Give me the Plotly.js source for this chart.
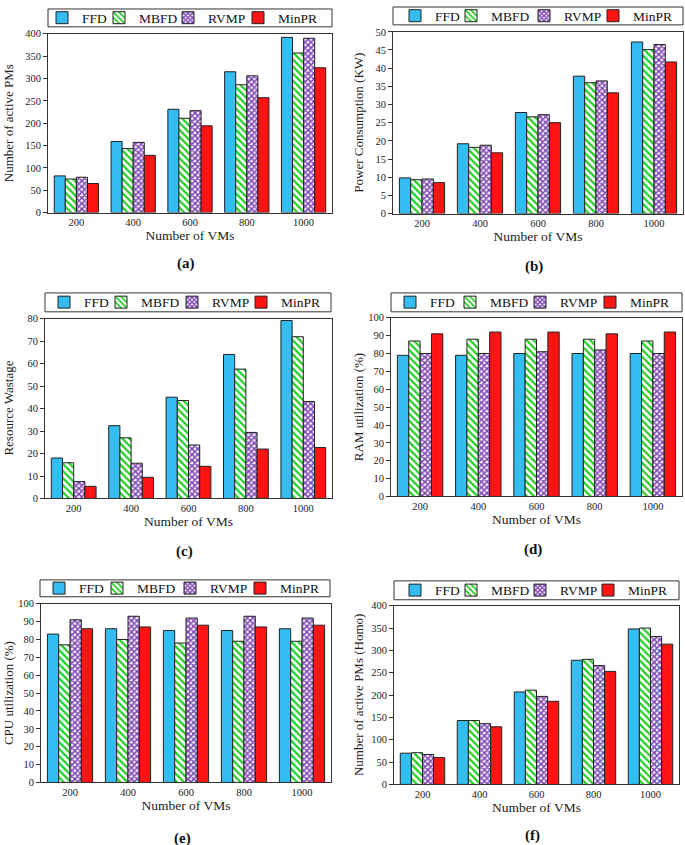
<!DOCTYPE html>
<html>
<head>
<meta charset="utf-8">
<script src="https://cdn.plot.ly/plotly-3.0.1.min.js"></script>
<style>html,body{margin:0;padding:0;background:#fff;}#chart{width:685px;height:845px;}</style>
</head>
<body>
<div id="chart"></div>
<script>
// ---------- DATA ----------
const vmCounts = ['200', '400', '600', '800', '1000'];
const algorithms = ['FFD', 'MBFD', 'RVMP', 'MinPR'];

// (a) Number of active PMs
const activePMs_FFD   = [82, 159, 231, 315, 392];
const activePMs_MBFD  = [75, 143, 211, 286, 357];
const activePMs_RVMP  = [79, 157, 228, 306, 390];
const activePMs_MinPR = [65, 128, 194, 257, 324];

// (b) Power consumption (KW)
const power_FFD   = [9.8, 19.2, 27.8, 37.8, 47.2];
const power_MBFD  = [9.3, 18.2, 26.6, 36.0, 45.1];
const power_RVMP  = [9.5, 18.8, 27.2, 36.5, 46.5];
const power_MinPR = [8.5, 16.7, 25.0, 33.2, 41.7];

// (c) Resource wastage
const waste_FFD   = [18.0, 32.4, 45.1, 64.1, 79.2];
const waste_MBFD  = [15.9, 27.0, 43.6, 57.6, 72.0];
const waste_RVMP  = [7.5, 15.7, 23.8, 29.4, 43.2];
const waste_MinPR = [5.4, 9.4, 14.3, 22.0, 22.7];

// (d) RAM utilization (%)
const ram_FFD   = [79, 79, 80, 80, 80];
const ram_MBFD  = [87, 88, 88, 88, 87];
const ram_RVMP  = [80, 80, 81, 82, 80];
const ram_MinPR = [91, 92, 92, 91, 92];

// (e) CPU utilization (%)
const cpu_FFD   = [83, 86, 85, 85, 86];
const cpu_MBFD  = [77, 80, 78, 79, 79];
const cpu_RVMP  = [91, 93, 92, 93, 92];
const cpu_MinPR = [86, 87, 88, 87, 88];

// (f) Number of active PMs (Homo)
const homo_FFD   = [70, 143, 207, 278, 348];
const homo_MBFD  = [71, 143, 211, 280, 350];
const homo_RVMP  = [67, 136, 197, 266, 331];
const homo_MinPR = [60, 129, 186, 253, 314];

const yTitles = ['Number of active PMs', 'Power Consumption (KW)', 'Resource Wastage',
                 'RAM utilization (%)', 'CPU utilization (%)', 'Number of active PMs (Homo)'];
const panelLabels = ['(a)', '(b)', '(c)', '(d)', '(e)', '(f)'];
const yMax = [400, 50, 80, 100, 100, 400];
const yStep = [50, 5, 10, 10, 10, 50];

const panelData = [
  [activePMs_FFD, activePMs_MBFD, activePMs_RVMP, activePMs_MinPR],
  [power_FFD, power_MBFD, power_RVMP, power_MinPR],
  [waste_FFD, waste_MBFD, waste_RVMP, waste_MinPR],
  [ram_FFD, ram_MBFD, ram_RVMP, ram_MinPR],
  [cpu_FFD, cpu_MBFD, cpu_RVMP, cpu_MinPR],
  [homo_FFD, homo_MBFD, homo_RVMP, homo_MinPR]
];

// ---------- LAYOUT GEOMETRY (pixels) ----------
const W = 685, H = 845;
// plot areas [left, right, top, bottom]
const plots = [
  [48, 332, 28, 208],
  [393, 683, 26, 209],
  [45, 332, 315, 496],
  [391, 682, 314, 494],
  [41, 331, 602, 782],
  [394, 679, 604, 784]
];
// legend boxes [left, right, top, bottom]
const legBoxes = [
  [48, 332, 3, 21],
  [393, 683, 1, 19],
  [45, 331, 289, 308],
  [391, 682, 289, 308],
  [40, 330, 578, 595],
  [394, 679, 579, 598]
];
// legend key positions (x of each key in the reference)
const legKeys = [
  [69, 126, 195, 265],
  [422, 478, 551, 620],
  [71, 128, 199, 268],
  [417, 477, 547, 617],
  [66, 124, 197, 267],
  [422, 478, 547, 615]
];
const labelY = [259, 262, 549, 547, 838, 835];
const ytitleX = [8, 359, 9, 358, 8, 358];

const styles = [
  {color: '#33bdf0', pattern: {shape: ''}},
  {color: '#ffffff', pattern: {shape: '\\', fgcolor: '#22cc22', bgcolor: '#ffffff', size: 5, solidity: 0.45, fillmode: 'replace'}},
  {color: '#a070c8', pattern: {shape: 'x', fgcolor: '#7a3fb0', bgcolor: '#f4eefa', size: 4, solidity: 0.6, fillmode: 'replace'}},
  {color: '#ff1414', pattern: {shape: ''}}
];

const FONT = 'Liberation Serif, Times New Roman, serif';
const traces = [];
const layout = {
  width: W, height: H,
  margin: {l: 0, r: 0, t: 0, b: 0},
  paper_bgcolor: '#fff', plot_bgcolor: '#fff',
  font: {family: FONT, color: '#222', size: 11},
  barmode: 'group', bargap: 0.22, bargroupgap: 0,
  showlegend: true,
  shapes: [], annotations: []
};

let legCount = 0;
for (let p = 0; p < 6; p++) {
  const sfx = p === 0 ? '' : String(p + 1);
  const [lL, lR, lT, lB] = legBoxes[p];
  for (let a = 0; a < 4; a++) {
    legCount++;
    const legName = legCount === 1 ? 'legend' : 'legend' + legCount;
    traces.push({
      type: 'bar', x: vmCounts, y: panelData[p][a], name: algorithms[a],
      xaxis: 'x' + sfx, yaxis: 'y' + sfx, legend: legName,
      marker: {color: styles[a].color, pattern: styles[a].pattern, line: {color: '#222', width: 1}},
      hoverinfo: 'x+y+name'
    });
    layout[legName] = {
      orientation: 'h', x: (legKeys[p][a] - 27) / W, y: 1 - ((lT + lB) / 2) / H,
      xanchor: 'left', yanchor: 'middle',
      bgcolor: 'rgba(0,0,0,0)', borderwidth: 0,
      font: {family: FONT, size: 13.5, color: '#111'},
      itemwidth: 30
    };
  }
  const [L, R, T, B] = plots[p];
  layout['xaxis' + sfx] = {
    domain: [L / W, R / W], anchor: 'y' + sfx, type: 'category',
    showline: true, linecolor: '#333', linewidth: 1, mirror: true,
    ticks: '', showgrid: false, zeroline: false,
    tickfont: {family: FONT, size: 10.5, color: '#222'},
    title: {text: 'Number of VMs', font: {family: FONT, size: 13.5, color: '#222'}, standoff: 3}
  };
  layout['yaxis' + sfx] = {
    domain: [1 - B / H, 1 - T / H], anchor: 'x' + sfx,
    range: [0, yMax[p]], dtick: yStep[p], tick0: 0,
    showline: true, linecolor: '#333', linewidth: 1, mirror: true,
    ticks: 'outside', ticklen: 4, tickcolor: '#333', showgrid: false, zeroline: false,
    tickfont: {family: FONT, size: 10.5, color: '#222'}
  };
  // y-axis title as rotated text, positioned like the reference
  layout.annotations.push({xref: 'paper', yref: 'paper',
    x: ytitleX[p] / W, y: 1 - ((T + B) / 2) / H, xanchor: 'center', yanchor: 'middle',
    textangle: -90, text: yTitles[p], showarrow: false,
    font: {family: FONT, size: 13, color: '#222'}});

  layout.shapes.push({type: 'rect', xref: 'paper', yref: 'paper',
    x0: lL / W, x1: lR / W, y0: 1 - lB / H, y1: 1 - lT / H,
    line: {color: '#333', width: 1}, fillcolor: 'rgba(0,0,0,0)'});
  layout.annotations.push({xref: 'paper', yref: 'paper',
    x: ((L + R) / 2 - 4) / W, y: 1 - labelY[p] / H, xanchor: 'center', yanchor: 'middle',
    text: '<b>' + panelLabels[p] + '</b>', showarrow: false,
    font: {family: FONT, size: 15, color: '#111'}});
}

Plotly.newPlot('chart', traces, layout, {displayModeBar: false, staticPlot: true});
</script>
</body>
</html>
